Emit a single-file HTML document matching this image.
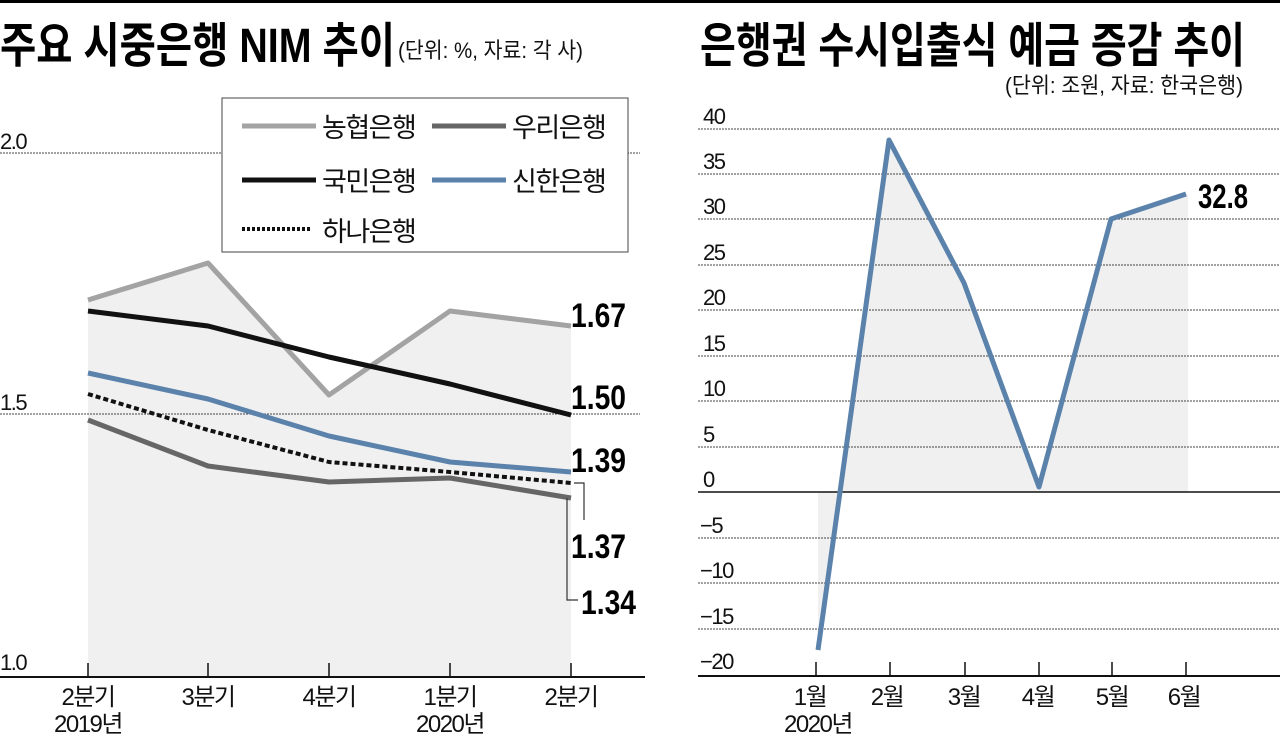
<!DOCTYPE html>
<html><head><meta charset="utf-8"><style>
body{margin:0;background:#fff;}
svg text{font-family:"Liberation Sans","Noto Sans CJK KR",sans-serif;}
.t{letter-spacing:-1.5px;}
</style></head><body>
<svg width="1280" height="737" viewBox="0 0 1280 737" xmlns="http://www.w3.org/2000/svg">
<rect x="0" y="0" width="1280" height="3" fill="#000"/>
<!-- titles -->
<text x="0" y="62" font-size="48" font-weight="bold" textLength="395" lengthAdjust="spacingAndGlyphs" fill="#000">주요 시중은행 NIM 추이</text>
<text x="398" y="58" font-size="22" textLength="185" lengthAdjust="spacingAndGlyphs" fill="#111">(단위: %, 자료: 각 사)</text>
<text x="700" y="62" font-size="48" font-weight="bold" textLength="545" lengthAdjust="spacingAndGlyphs" fill="#000">은행권 수시입출식 예금 증감 추이</text>
<text x="1005" y="93" font-size="22" textLength="238" lengthAdjust="spacingAndGlyphs" fill="#111">(단위: 조원, 자료: 한국은행)</text>

<!-- LEFT CHART -->
<polygon points="88,300 208,263 329,395 450,311 571,326 571,676 88,676" fill="#f0f0f0"/>
<line x1="0" y1="153" x2="640" y2="153" stroke="#444" stroke-width="1" stroke-dasharray="2,1"/>
<line x1="0" y1="414" x2="640" y2="414" stroke="#444" stroke-width="1" stroke-dasharray="2,1"/>
<g font-size="22" fill="#111" class="t">
<text x="0" y="149">2.0</text>
<text x="0" y="410">1.5</text>
<text x="0" y="670">1.0</text>
</g>
<line x1="0" y1="677" x2="645" y2="677" stroke="#111" stroke-width="2"/>
<g stroke="#111" stroke-width="1.5">
<line x1="88" y1="663" x2="88" y2="677"/><line x1="208" y1="663" x2="208" y2="677"/><line x1="329" y1="663" x2="329" y2="677"/><line x1="450" y1="663" x2="450" y2="677"/><line x1="571" y1="663" x2="571" y2="677"/>
</g>
<g font-size="24" fill="#111" text-anchor="middle" class="t">
<text x="88" y="705">2분기</text><text x="208" y="705">3분기</text><text x="329" y="705">4분기</text><text x="450" y="705">1분기</text><text x="571" y="705">2분기</text>
<text x="88" y="732">2019년</text><text x="450" y="732">2020년</text>
</g>
<g fill="none" stroke-width="5" stroke-linejoin="round">
<polyline points="88,300 208,263 329,395 450,311 571,326" stroke="#a3a3a3"/>
<polyline points="88,311 208,326 329,357 450,384 571,415" stroke="#111"/>
<polyline points="88,420 208,466 329,482 450,478 571,498" stroke="#666"/>
<polyline points="88,373 208,399 329,436 450,462 571,472" stroke="#5a82ab"/>
<polyline points="88,394 208,430 329,462 450,472 571,483" stroke="#111" stroke-width="4" stroke-dasharray="5,3"/>
</g>
<polyline points="574,483 584,483 584,520" fill="none" stroke="#333" stroke-width="1.2"/>
<polyline points="567,498 567,600 578,600" fill="none" stroke="#333" stroke-width="1.2"/>
<g font-size="34" fill="#000" font-weight="bold">
<text x="571" y="327" textLength="55" lengthAdjust="spacingAndGlyphs">1.67</text>
<text x="571" y="409" textLength="55" lengthAdjust="spacingAndGlyphs">1.50</text>
<text x="571" y="472" textLength="55" lengthAdjust="spacingAndGlyphs">1.39</text>
<text x="571" y="558" textLength="55" lengthAdjust="spacingAndGlyphs">1.37</text>
<text x="581" y="614" textLength="55" lengthAdjust="spacingAndGlyphs">1.34</text>
</g>
<!-- legend -->
<rect x="222" y="98" width="406" height="154" fill="#fff" stroke="#444" stroke-width="1"/>
<g stroke-width="5">
<line x1="242" y1="126" x2="316" y2="126" stroke="#a3a3a3"/>
<line x1="432" y1="126" x2="506" y2="126" stroke="#666"/>
<line x1="242" y1="180" x2="316" y2="180" stroke="#111"/>
<line x1="432" y1="180" x2="506" y2="180" stroke="#5a82ab"/>
<line x1="242" y1="229" x2="312" y2="229" stroke="#111" stroke-width="4" stroke-dasharray="3,2"/>
</g>
<g font-size="27" fill="#111" class="t">
<text x="322" y="137">농협은행</text><text x="512" y="137">우리은행</text>
<text x="322" y="191">국민은행</text><text x="512" y="191">신한은행</text>
<text x="322" y="241">하나은행</text>
</g>

<!-- RIGHT CHART -->
<polygon points="818,650 889,140 964,283 1039,487 1111,219 1186,194 1188,194 1188,492 818,492" fill="#f0f0f0"/>
<g stroke="#444" stroke-width="1" stroke-dasharray="2,1">
<line x1="698" y1="129" x2="1280" y2="129"/><line x1="698" y1="174" x2="1280" y2="174"/>
<line x1="698" y1="219" x2="1280" y2="219"/><line x1="698" y1="265" x2="1280" y2="265"/>
<line x1="698" y1="310" x2="1280" y2="310"/><line x1="698" y1="356" x2="1280" y2="356"/>
<line x1="698" y1="401" x2="1280" y2="401"/><line x1="698" y1="447" x2="1280" y2="447"/>
<line x1="698" y1="538" x2="1280" y2="538"/><line x1="698" y1="583" x2="1280" y2="583"/>
<line x1="698" y1="629" x2="1280" y2="629"/>
</g>
<line x1="698" y1="492" x2="1280" y2="492" stroke="#111" stroke-width="1.5"/>
<line x1="698" y1="676" x2="1280" y2="676" stroke="#111" stroke-width="2"/>
<g font-size="22" fill="#111" class="t">
<text x="703" y="124">40</text><text x="703" y="169">35</text><text x="703" y="214">30</text>
<text x="703" y="260">25</text><text x="703" y="305">20</text><text x="703" y="351">15</text>
<text x="703" y="396">10</text><text x="703" y="442">5</text><text x="703" y="487">0</text>
<text x="700" y="533">−5</text><text x="700" y="578">−10</text><text x="700" y="624">−15</text><text x="700" y="669">−20</text>
</g>
<g stroke="#111" stroke-width="1.5">
<line x1="816" y1="662" x2="816" y2="676"/><line x1="890" y1="662" x2="890" y2="676"/><line x1="965" y1="662" x2="965" y2="676"/><line x1="1039" y1="662" x2="1039" y2="676"/><line x1="1112" y1="662" x2="1112" y2="676"/><line x1="1186" y1="662" x2="1186" y2="676"/>
</g>
<g font-size="24" fill="#111" text-anchor="middle" class="t">
<text x="810" y="705">1월</text><text x="887" y="705">2월</text><text x="964" y="705">3월</text><text x="1038" y="705">4월</text><text x="1112" y="705">5월</text><text x="1184" y="705">6월</text>
<text x="818" y="732">2020년</text>
</g>
<polyline points="818,650 889,140 964,283 1039,487 1111,219 1186,194" fill="none" stroke="#5a82ab" stroke-width="5" stroke-linejoin="round"/>
<text x="1198" y="208" font-size="34" font-weight="bold" fill="#000" textLength="50" lengthAdjust="spacingAndGlyphs">32.8</text>
</svg>
</body></html>
